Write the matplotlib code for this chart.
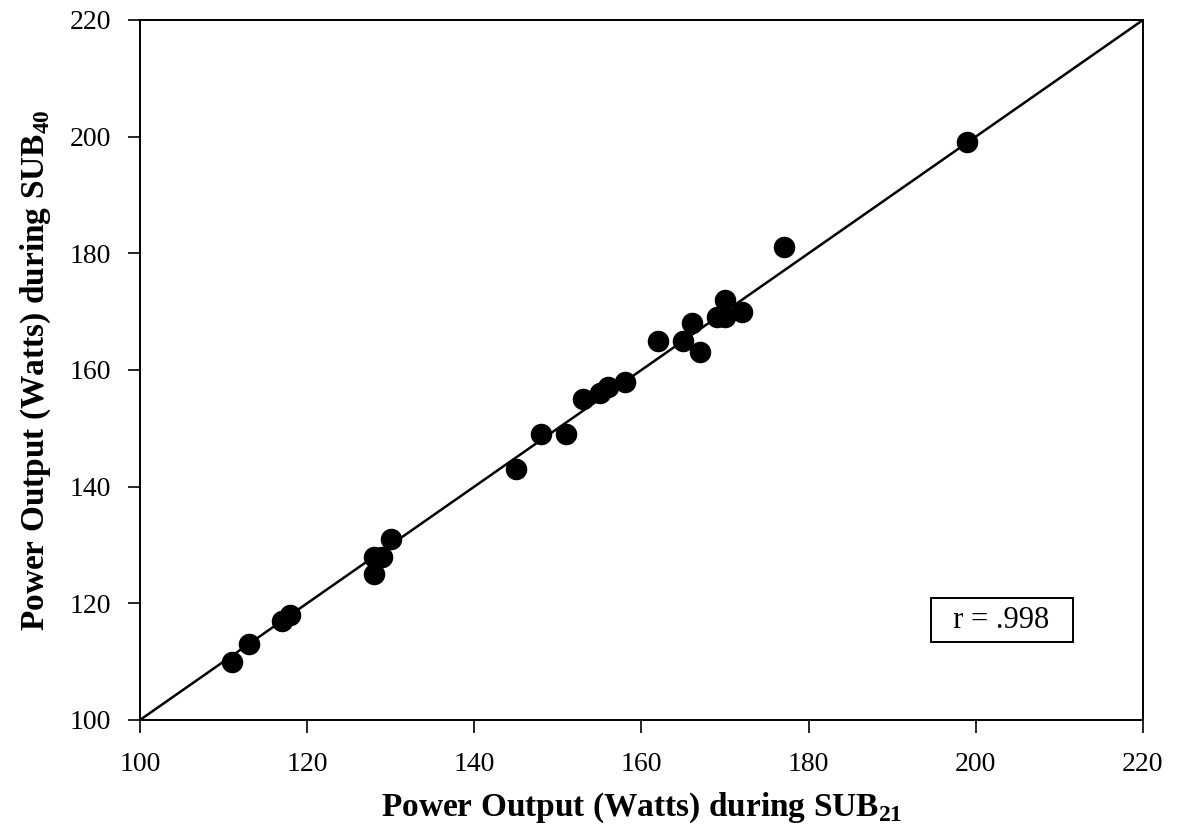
import numpy as np
import matplotlib.pyplot as plt

# Power output values (Watts)
sub21 = [111, 113, 117, 118, 128, 129, 128, 130, 145, 148, 151, 153, 155, 156,
         158, 162, 165, 166, 167, 169, 170, 170, 172, 177, 199]
sub40 = [110, 113, 117, 118, 128, 128, 125, 131, 143, 149, 149, 155, 156, 157,
         158, 165, 165, 168, 163, 169, 169, 172, 170, 181, 199]
axis_ticks = [100, 120, 140, 160, 180, 200, 220]
r_label = "  r = .998  "

plt.rcParams['font.family'] = ['Liberation Serif', 'DejaVu Serif']
plt.rcParams['mathtext.fontset'] = 'custom'
plt.rcParams['mathtext.rm'] = 'Liberation Serif'
plt.rcParams['mathtext.bf'] = 'Liberation Serif:bold'

fig = plt.figure(figsize=(11.8, 8.33), dpi=100)
ax = fig.add_axes([0.1186, 0.1357, 0.85, 0.8403])

# line of identity
ax.plot([axis_ticks[0], axis_ticks[-1]], [axis_ticks[0], axis_ticks[-1]],
        color='black', lw=1.8, zorder=2)
ax.scatter(sub21, sub40, s=210, color='black', zorder=3)

ax.set_xlim(axis_ticks[0], axis_ticks[-1])
ax.set_ylim(axis_ticks[0], axis_ticks[-1])
ax.set_xticks(axis_ticks)
ax.set_yticks(axis_ticks)
ax.tick_params(direction='out', length=9, width=1.2, labelsize=20)
ax.tick_params(axis='x', pad=14)
ax.tick_params(axis='y', pad=12)
for s in ax.spines.values():
    s.set_linewidth(1.4)

ax.set_xlabel(r'Power Output (Watts) during SUB$_\mathbf{21}$',
              fontsize=24, fontweight='bold', labelpad=10)
ax.set_ylabel(r'Power Output (Watts) during SUB$_\mathbf{40}$',
              fontsize=24, fontweight='bold', labelpad=12)

ax.text(203.1, 117.1, r_label, fontsize=22, ha='center', va='center',
        bbox=dict(boxstyle='square,pad=0.25', facecolor='white',
                  edgecolor='black', linewidth=1.4))

fig.savefig('out.png', dpi=100)
